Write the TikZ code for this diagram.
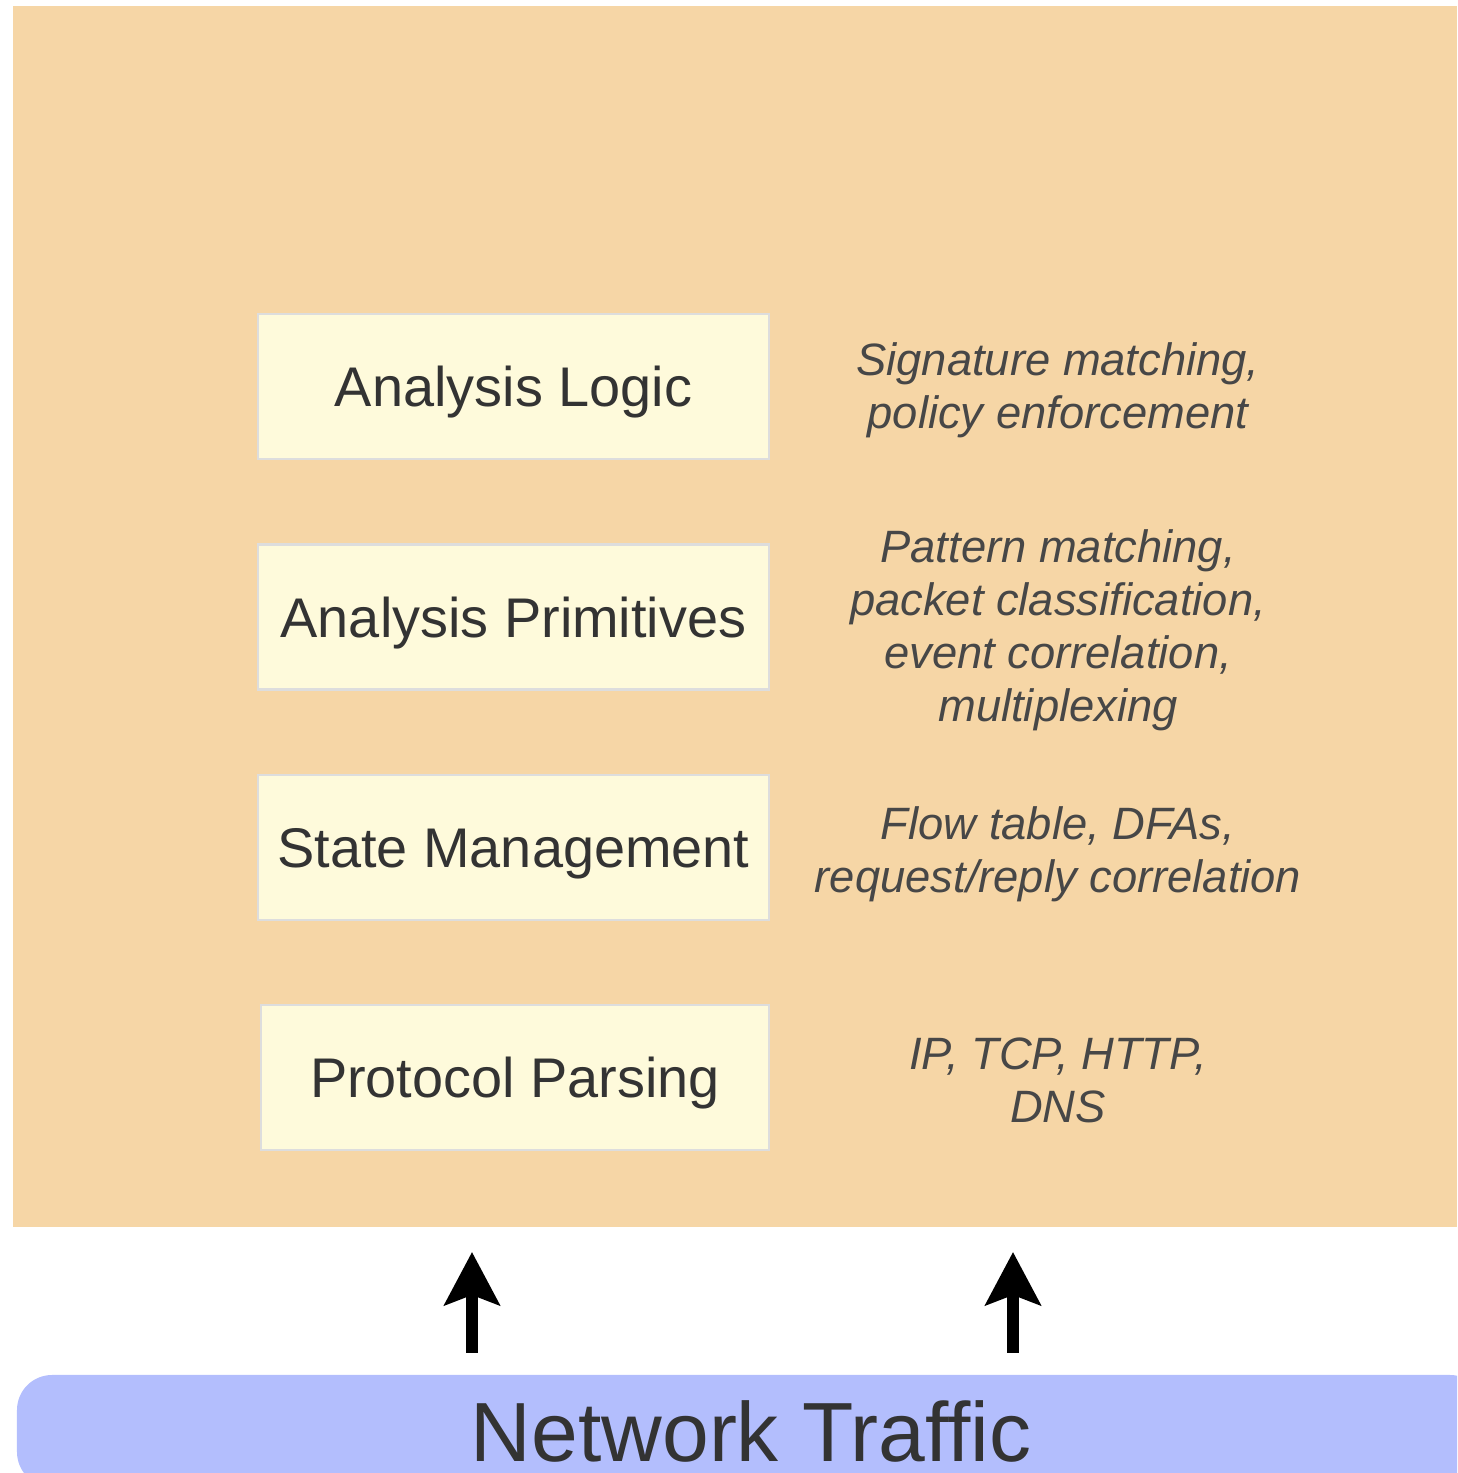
\documentclass[tikz,border=0pt]{standalone}
\usepackage{fontspec}
\setmainfont{Liberation Sans}
\usetikzlibrary{arrows.meta}
\definecolor{stacktan}{HTML}{F6D6A6}
\definecolor{layerfill}{HTML}{FEFADB}
\definecolor{layerline}{HTML}{DDDDDD}
\definecolor{trafficblue}{HTML}{B3BEFD}
\definecolor{textgray}{HTML}{333333}
\definecolor{notegray}{HTML}{474747}
\tikzset{>=latex,
  stackbox/.style={fill=stacktan,draw=none,outer sep=0pt,inner sep=0pt},
  layer/.style={fill=layerfill,draw=layerline,line width=0.6pt,inner sep=0pt,outer sep=0pt,
    minimum width=5.11cm,minimum height=1.45cm,text=textgray,
    text height=11.4pt,text depth=0pt,
    font=\fontsize{15.9}{19}\selectfont},
  note/.style={align=center,text=notegray,inner sep=0pt,
    font=\fontsize{12.9}{15.1}\selectfont\itshape},
  trafficbar/.style={fill=trafficblue,draw=none,rounded corners=0.35cm,outer sep=0pt,
    minimum width=14.68cm,minimum height=1.12cm,text=textgray,
    font=\fontsize{23.9}{28}\selectfont},
  uparrow/.style={-{Stealth[length=0.53cm,width=0.55cm,inset=0.1cm]},line width=0.12cm,black}}
\begin{document}
\begin{tikzpicture}
  \useasboundingbox (0,0) rectangle (14.57,14.73);
  \clip (0,0) rectangle (14.57,14.73);
  % background of the stack
  \node[stackbox,minimum width=14.44cm,minimum height=12.21cm] (stack) at (7.35,8.565) {};
  % layers
  \node[layer] (logic) at (5.135,10.865) {Analysis Logic};
  \node[layer] (prims) at (5.135,8.56) {Analysis Primitives};
  \node[layer] (state) at (5.135,6.255) {State Management};
  \node[layer,minimum width=5.08cm] (parse) at (5.15,3.955) {Protocol Parsing};
  % descriptions
  \node[note] (nlogic) at (10.58,10.83) {Signature matching,\\policy enforcement};
  \node[note] (nprims) at (10.58,8.43) {Pattern matching,\\packet classification,\\event correlation,\\multiplexing};
  \node[note] (nstate) at (10.58,6.19) {Flow table, DFAs,\\request/reply correlation};
  \node[note] (nparse) at (10.58,3.93) {IP, TCP, HTTP,\\DNS};
  % input
  \node[trafficbar] (traffic) at (7.51,0.42) {Network Traffic};
  \coordinate (in1) at (4.72,0);
  \coordinate (in2) at (10.13,0);
  \draw[uparrow] ([yshift=2.2mm]traffic.north -| in1) -- ([yshift=-2.5mm]stack.south -| in1);
  \draw[uparrow] ([yshift=2.2mm]traffic.north -| in2) -- ([yshift=-2.5mm]stack.south -| in2);
\end{tikzpicture}
\end{document}
